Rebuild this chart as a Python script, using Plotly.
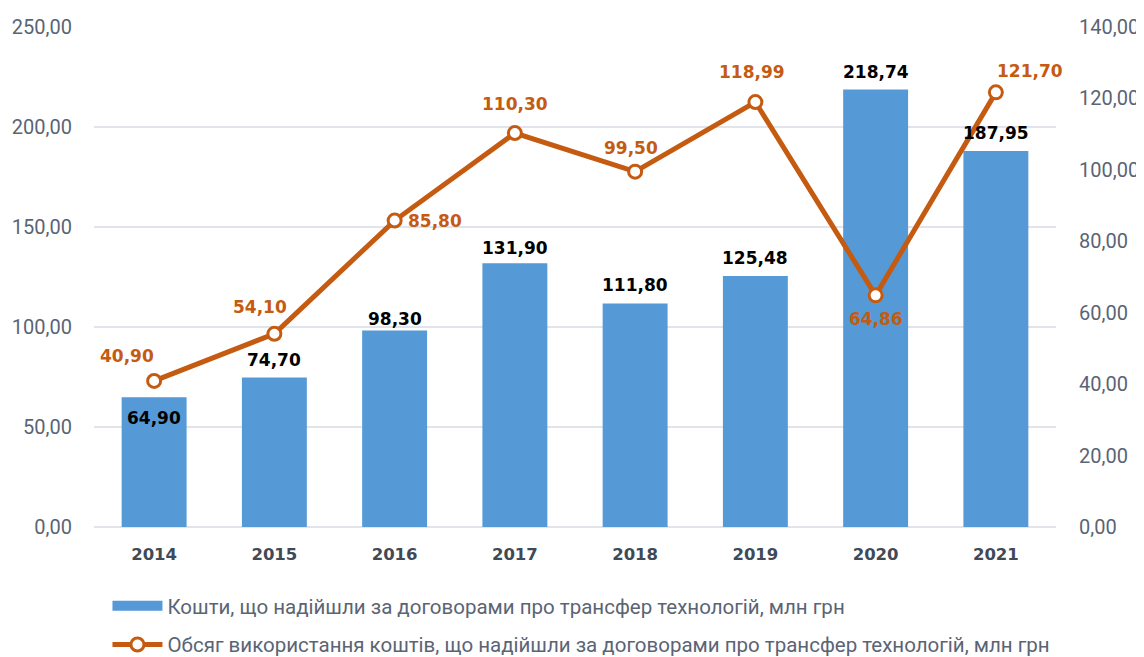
import plotly.graph_objects as go

years = [2014, 2015, 2016, 2017, 2018, 2019, 2020, 2021]
funds_received = [64.90, 74.70, 98.30, 131.90, 111.80, 125.48, 218.74, 187.95]
funds_used = [40.90, 54.10, 85.80, 110.30, 99.50, 118.99, 64.86, 121.70]

left_ticks = [0, 50, 100, 150, 200, 250]
right_ticks = [0, 20, 40, 60, 80, 100, 120, 140]

bar_name = "Кошти, що надійшли за договорами про трансфер технологій, млн грн"
line_name = "Обсяг використання коштів, що надійшли за договорами про трансфер технологій, млн грн"

# label offsets (pixels) - styling only
bar_label_shift = [-21, 18, 11, 15, 18, 18, 18, 18]
line_label_dx = [-27, -14, 40, 0, -4, -3, 0, 34]
line_label_dy = [25, 27, 0, 29, 24, 30, -24, 21]

ORANGE = "#C55A11"
BLUE = "#5699D7"
AXIS_FONT = "Roboto"
LABEL_FONT = "DejaVu Sans"

def fmt(v):
    return f"{v:.2f}".replace(".", ",")

fig = go.Figure()
fig.add_trace(go.Bar(
    x=years, y=funds_received, name=bar_name, width=0.54,
    marker=dict(color=BLUE, line=dict(width=0)),
    showlegend=False,
))
# legend entry for the bars (wide rectangle symbol like the original)
fig.add_trace(go.Scatter(
    x=[None], y=[None], name=bar_name, mode="lines",
    line=dict(color=BLUE, width=12),
    legendgroup="a",
))
fig.add_trace(go.Scatter(
    x=years, y=funds_used, name=line_name, yaxis="y2",
    mode="lines+markers",
    line=dict(color=ORANGE, width=5),
    marker=dict(symbol="circle", size=13, color="white", line=dict(color=ORANGE, width=3)),
    legendgroup="b",
))

annotations = []
for i in range(len(years)):
    annotations.append(dict(
        x=years[i], y=funds_received[i], xref="x", yref="y", text=fmt(funds_received[i]),
        showarrow=False, yshift=bar_label_shift[i], yanchor="middle",
        font=dict(family=LABEL_FONT, size=17, color="#000000", weight="bold"),
    ))
    annotations.append(dict(
        x=years[i], y=funds_used[i], xref="x", yref="y2", text=fmt(funds_used[i]),
        showarrow=False, xshift=line_label_dx[i], yshift=line_label_dy[i], yanchor="middle",
        font=dict(family=LABEL_FONT, size=17, color=ORANGE, weight="bold"),
    ))

fig.update_layout(
    width=1136, height=649,
    margin=dict(l=86, r=88, t=19, b=130, autoexpand=False),
    paper_bgcolor="white", plot_bgcolor="white",
    font=dict(family=AXIS_FONT, color="#5A6474"),
    xaxis=dict(
        type="linear", range=[years[0] - 0.5, years[-1] + 0.5],
        tickvals=years, ticktext=[str(y) for y in years],
        showgrid=False, showline=False, zeroline=False,
        ticks="outside", ticklen=12, tickcolor="rgba(0,0,0,0)",
        tickfont=dict(family=LABEL_FONT, size=16.5, color="#404A57", weight="bold"),
    ),
    yaxis=dict(
        range=[0, 250], tickvals=left_ticks, ticktext=[fmt(t) for t in left_ticks],
        showgrid=True, gridcolor="#E1E4EA", gridwidth=1.5,
        zeroline=True, zerolinecolor="#E1E4EA", zerolinewidth=1.5,
        tickfont=dict(family=AXIS_FONT, size=20, color="#5A6474"),
        ticks="outside", ticklen=17, tickcolor="rgba(0,0,0,0)",
    ),
    yaxis2=dict(
        range=[0, 140], tickvals=right_ticks, ticktext=[fmt(t) for t in right_ticks],
        overlaying="y", side="right",
        showgrid=False, zeroline=False,
        tickfont=dict(family=AXIS_FONT, size=20, color="#5A6474"),
        ticks="outside", ticklen=18, tickcolor="rgba(0,0,0,0)",
    ),
    legend=dict(
        orientation="v", x=0.014, y=-0.118, xanchor="left", yanchor="top",
        font=dict(family="Roboto", size=20.5, color="#5A6474"),
        traceorder="grouped", tracegroupgap=9, itemwidth=50,
        bgcolor="rgba(0,0,0,0)",
    ),
    annotations=annotations,
)

fig.write_html("out.html")
